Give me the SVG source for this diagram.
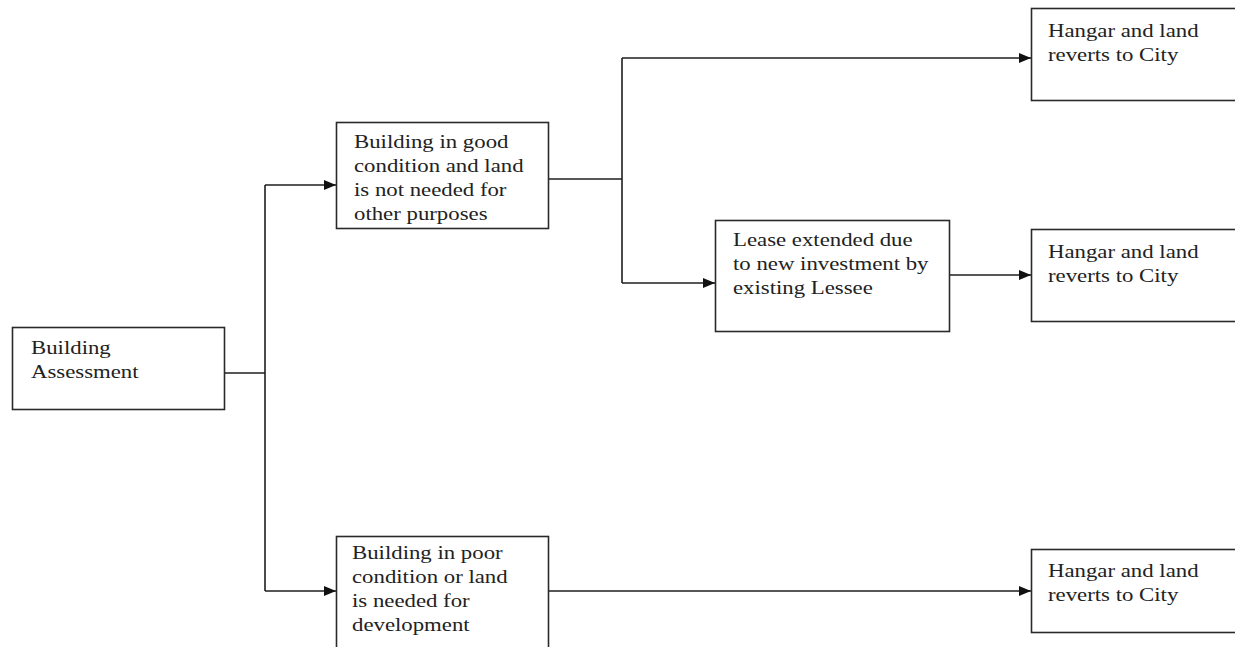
<svg xmlns="http://www.w3.org/2000/svg" width="1235" height="647" viewBox="0 0 1235 647">
<style>
.box{fill:#fff;stroke:#2a2a2a;stroke-width:1.6}
.t{font-family:"Liberation Serif","Times New Roman",serif;font-size:19px;fill:#222}
.c{fill:none;stroke:#1e1e1e;stroke-width:1.6}
</style>
<defs>
<marker id="ah" viewBox="0 0 12 10" refX="12" refY="5" markerWidth="12" markerHeight="10" markerUnits="userSpaceOnUse" orient="auto">
<path d="M0,0 L12,5 L0,10 Z" fill="#111"/>
</marker>
</defs>
<rect width="1235" height="647" fill="#fff"/>
<g id="connectors">
<path class="c" d="M224,373 H265"/>
<path class="c" d="M265,185 V591"/>
<path class="c" d="M265,185 H336" marker-end="url(#ah)"/>
<path class="c" d="M265,591 H336" marker-end="url(#ah)"/>
<path class="c" d="M548,179 H622"/>
<path class="c" d="M622,58 V283"/>
<path class="c" d="M622,58 H1031" marker-end="url(#ah)"/>
<path class="c" d="M622,283 H715" marker-end="url(#ah)"/>
<path class="c" d="M950,275 H1031" marker-end="url(#ah)"/>
<path class="c" d="M548,591 H1031" marker-end="url(#ah)"/>
</g>
<g id="assessment">
<rect class="box" x="12.5" y="327.5" width="212" height="82"/>
<text class="t" transform="translate(31 0) scale(1.2 1)"><tspan x="0" y="354">Building</tspan><tspan x="0" y="378">Assessment</tspan></text>
</g>
<g id="good">
<rect class="box" x="336.5" y="122.5" width="212" height="106"/>
<text class="t" transform="translate(354 0) scale(1.2 1)"><tspan x="0" y="148">Building in good</tspan><tspan x="0" y="172">condition and land</tspan><tspan x="0" y="196">is not needed for</tspan><tspan x="0" y="220">other purposes</tspan></text>
</g>
<g id="poor">
<rect class="box" x="336.5" y="536.5" width="212" height="120"/>
<text class="t" transform="translate(352 0) scale(1.2 1)"><tspan x="0" y="559">Building in poor</tspan><tspan x="0" y="583">condition or land</tspan><tspan x="0" y="607">is needed for</tspan><tspan x="0" y="631">development</tspan></text>
</g>
<g id="lease">
<rect class="box" x="715.5" y="220.5" width="234" height="111"/>
<text class="t" transform="translate(733 0) scale(1.2 1)"><tspan x="0" y="246">Lease extended due</tspan><tspan x="0" y="270">to new investment by</tspan><tspan x="0" y="294">existing Lessee</tspan></text>
</g>
<g id="hangar1">
<rect class="box" x="1031.5" y="8.5" width="220" height="92"/>
<text class="t" transform="translate(1048 0) scale(1.2 1)"><tspan x="0" y="37">Hangar and land</tspan><tspan x="0" y="61">reverts to City</tspan></text>
</g>
<g id="hangar2">
<rect class="box" x="1031.5" y="229.5" width="220" height="92"/>
<text class="t" transform="translate(1048 0) scale(1.2 1)"><tspan x="0" y="258">Hangar and land</tspan><tspan x="0" y="282">reverts to City</tspan></text>
</g>
<g id="hangar3">
<rect class="box" x="1031.5" y="549.5" width="220" height="83"/>
<text class="t" transform="translate(1048 0) scale(1.2 1)"><tspan x="0" y="577">Hangar and land</tspan><tspan x="0" y="601">reverts to City</tspan></text>
</g>
</svg>
